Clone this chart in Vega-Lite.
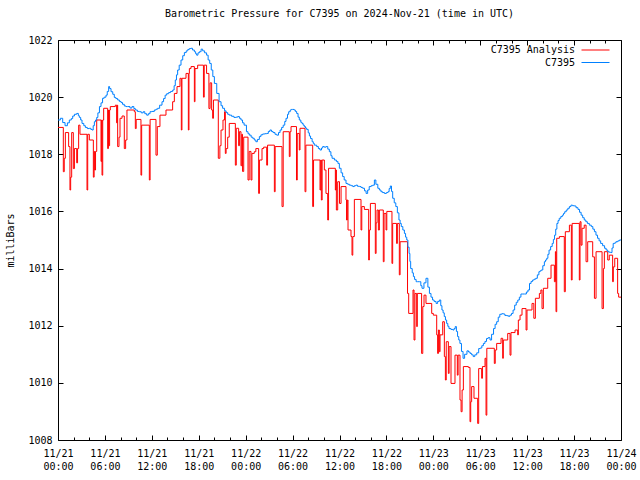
{
  "$schema": "https://vega.github.io/schema/vega-lite/v6.json",
  "width": 563,
  "height": 400,
  "autosize": {"type": "none"},
  "padding": {"left": 58, "top": 40, "right": 19, "bottom": 40},
  "background": "white",
  "config": {
    "font": "DejaVu Sans Mono",
    "view": {"stroke": "black", "strokeWidth": 1},
    "axis": {"domain": false, "grid": false, "labelFont": "DejaVu Sans Mono", "labelFontSize": 10, "labelColor": "black", "tickColor": "black", "tickWidth": 1, "titleFont": "DejaVu Sans Mono", "titleFontSize": 10, "titleFontWeight": "normal", "titleColor": "black", "labelFlush": false, "labelOverlap": false},
    "legend": {"title": null, "orient": "none", "direction": "vertical", "symbolType": "M-2.8,0H2.8", "symbolSize": 100, "symbolStrokeWidth": 1, "labelAlign": "right", "labelOffset": -26, "labelFont": "DejaVu Sans Mono", "labelFontSize": 10, "labelColor": "black", "padding": 0}
  },
  "title": {"text": "Barometric Pressure for C7395 on 2024-Nov-21 (time in UTC)", "font": "DejaVu Sans Mono", "fontSize": 10, "fontWeight": "normal", "offset": 16, "anchor": "middle", "color": "black"},
  "data": {"values": [
    {"series":"C7395 Analysis","hour":0,"mb":1018.94},{"series":"C7395 Analysis","hour":0.68,"mb":1017.39},{"series":"C7395 Analysis","hour":0.8,"mb":1017.86},{"series":"C7395 Analysis","hour":0.94,"mb":1018.76},{"series":"C7395 Analysis","hour":1.36,"mb":1018.27},{"series":"C7395 Analysis","hour":1.53,"mb":1016.75},{"series":"C7395 Analysis","hour":1.62,"mb":1017.2},{"series":"C7395 Analysis","hour":1.75,"mb":1018.76},{"series":"C7395 Analysis","hour":1.96,"mb":1017.5},{"series":"C7395 Analysis","hour":2.1,"mb":1018.2},{"series":"C7395 Analysis","hour":2.39,"mb":1017.7},{"series":"C7395 Analysis","hour":2.5,"mb":1018.2},{"series":"C7395 Analysis","hour":2.64,"mb":1019.02},{"series":"C7395 Analysis","hour":2.81,"mb":1018.7},{"series":"C7395 Analysis","hour":3.71,"mb":1016.75},{"series":"C7395 Analysis","hour":3.8,"mb":1018.7},{"series":"C7395 Analysis","hour":4.01,"mb":1018.5},{"series":"C7395 Analysis","hour":4.52,"mb":1017.2},{"series":"C7395 Analysis","hour":4.62,"mb":1018.1},{"series":"C7395 Analysis","hour":4.69,"mb":1017.45},{"series":"C7395 Analysis","hour":4.8,"mb":1018.1},{"series":"C7395 Analysis","hour":4.95,"mb":1019.2},{"series":"C7395 Analysis","hour":5.5,"mb":1017.75},{"series":"C7395 Analysis","hour":5.58,"mb":1019.2},{"series":"C7395 Analysis","hour":5.63,"mb":1017.27},{"series":"C7395 Analysis","hour":5.72,"mb":1019.2},{"series":"C7395 Analysis","hour":5.84,"mb":1019.61},{"series":"C7395 Analysis","hour":6.35,"mb":1018.2},{"series":"C7395 Analysis","hour":6.45,"mb":1019.55},{"series":"C7395 Analysis","hour":6.5,"mb":1018.3},{"series":"C7395 Analysis","hour":6.6,"mb":1019.55},{"series":"C7395 Analysis","hour":6.69,"mb":1019.67},{"series":"C7395 Analysis","hour":7.33,"mb":1019.72},{"series":"C7395 Analysis","hour":7.5,"mb":1019.1},{"series":"C7395 Analysis","hour":7.57,"mb":1019.72},{"series":"C7395 Analysis","hour":7.63,"mb":1018.27},{"series":"C7395 Analysis","hour":7.8,"mb":1018.6},{"series":"C7395 Analysis","hour":7.93,"mb":1019.26},{"series":"C7395 Analysis","hour":8.19,"mb":1019.34},{"series":"C7395 Analysis","hour":8.48,"mb":1018.2},{"series":"C7395 Analysis","hour":8.65,"mb":1018.5},{"series":"C7395 Analysis","hour":8.82,"mb":1019.55},{"series":"C7395 Analysis","hour":9.76,"mb":1019.49},{"series":"C7395 Analysis","hour":9.89,"mb":1018.9},{"series":"C7395 Analysis","hour":10.0,"mb":1019.22},{"series":"C7395 Analysis","hour":10.61,"mb":1017.27},{"series":"C7395 Analysis","hour":10.7,"mb":1019.02},{"series":"C7395 Analysis","hour":11.68,"mb":1017.1},{"series":"C7395 Analysis","hour":11.78,"mb":1019.22},{"series":"C7395 Analysis","hour":12.53,"mb":1017.97},{"series":"C7395 Analysis","hour":12.7,"mb":1018.97},{"series":"C7395 Analysis","hour":13.04,"mb":1019.37},{"series":"C7395 Analysis","hour":13.81,"mb":1019.55},{"series":"C7395 Analysis","hour":14.66,"mb":1019.84},{"series":"C7395 Analysis","hour":14.88,"mb":1020.13},{"series":"C7395 Analysis","hour":15.22,"mb":1020.37},{"series":"C7395 Analysis","hour":15.6,"mb":1020.66},{"series":"C7395 Analysis","hour":15.77,"mb":1018.85},{"series":"C7395 Analysis","hour":15.85,"mb":1020.66},{"series":"C7395 Analysis","hour":16.37,"mb":1020.83},{"series":"C7395 Analysis","hour":16.67,"mb":1018.85},{"series":"C7395 Analysis","hour":16.75,"mb":1020.83},{"series":"C7395 Analysis","hour":16.8,"mb":1021.0},{"series":"C7395 Analysis","hour":17.01,"mb":1021.07},{"series":"C7395 Analysis","hour":17.44,"mb":1019.84},{"series":"C7395 Analysis","hour":17.52,"mb":1021.0},{"series":"C7395 Analysis","hour":17.86,"mb":1021.12},{"series":"C7395 Analysis","hour":18.6,"mb":1020.0},{"series":"C7395 Analysis","hour":18.7,"mb":1021.12},{"series":"C7395 Analysis","hour":19.0,"mb":1020.83},{"series":"C7395 Analysis","hour":19.3,"mb":1019.6},{"series":"C7395 Analysis","hour":19.45,"mb":1020.5},{"series":"C7395 Analysis","hour":19.65,"mb":1019.55},{"series":"C7395 Analysis","hour":19.78,"mb":1019.26},{"series":"C7395 Analysis","hour":19.88,"mb":1019.9},{"series":"C7395 Analysis","hour":20.5,"mb":1017.86},{"series":"C7395 Analysis","hour":20.7,"mb":1018.3},{"series":"C7395 Analysis","hour":20.85,"mb":1018.85},{"series":"C7395 Analysis","hour":21.1,"mb":1019.2},{"series":"C7395 Analysis","hour":21.3,"mb":1019.49},{"series":"C7395 Analysis","hour":21.4,"mb":1018.03},{"series":"C7395 Analysis","hour":21.5,"mb":1018.2},{"series":"C7395 Analysis","hour":21.7,"mb":1018.6},{"series":"C7395 Analysis","hour":21.9,"mb":1019.08},{"series":"C7395 Analysis","hour":22.68,"mb":1017.62},{"series":"C7395 Analysis","hour":22.8,"mb":1018.91},{"series":"C7395 Analysis","hour":23.1,"mb":1018.3},{"series":"C7395 Analysis","hour":23.2,"mb":1018.79},{"series":"C7395 Analysis","hour":23.4,"mb":1017.6},{"series":"C7395 Analysis","hour":23.5,"mb":1018.7},{"series":"C7395 Analysis","hour":23.6,"mb":1017.4},{"series":"C7395 Analysis","hour":23.75,"mb":1018.6},{"series":"C7395 Analysis","hour":24.3,"mb":1017.1},{"series":"C7395 Analysis","hour":24.45,"mb":1018.1},{"series":"C7395 Analysis","hour":24.68,"mb":1017.1},{"series":"C7395 Analysis","hour":24.8,"mb":1018.03},{"series":"C7395 Analysis","hour":25.1,"mb":1018.09},{"series":"C7395 Analysis","hour":25.3,"mb":1018.2},{"series":"C7395 Analysis","hour":25.66,"mb":1016.63},{"series":"C7395 Analysis","hour":25.76,"mb":1017.8},{"series":"C7395 Analysis","hour":26.09,"mb":1018.2},{"series":"C7395 Analysis","hour":26.3,"mb":1018.25},{"series":"C7395 Analysis","hour":26.69,"mb":1017.62},{"series":"C7395 Analysis","hour":26.8,"mb":1018.32},{"series":"C7395 Analysis","hour":27.67,"mb":1016.69},{"series":"C7395 Analysis","hour":27.77,"mb":1018.27},{"series":"C7395 Analysis","hour":28.65,"mb":1016.17},{"series":"C7395 Analysis","hour":28.8,"mb":1018.79},{"series":"C7395 Analysis","hour":29.58,"mb":1017.92},{"series":"C7395 Analysis","hour":29.68,"mb":1018.79},{"series":"C7395 Analysis","hour":29.8,"mb":1018.97},{"series":"C7395 Analysis","hour":30.5,"mb":1017.1},{"series":"C7395 Analysis","hour":30.6,"mb":1018.73},{"series":"C7395 Analysis","hour":30.86,"mb":1018.15},{"series":"C7395 Analysis","hour":30.95,"mb":1018.91},{"series":"C7395 Analysis","hour":31.59,"mb":1016.69},{"series":"C7395 Analysis","hour":31.7,"mb":1018.32},{"series":"C7395 Analysis","hour":32.57,"mb":1016.17},{"series":"C7395 Analysis","hour":32.68,"mb":1017.8},{"series":"C7395 Analysis","hour":33.51,"mb":1016.75},{"series":"C7395 Analysis","hour":33.6,"mb":1017.8},{"series":"C7395 Analysis","hour":33.68,"mb":1016.4},{"series":"C7395 Analysis","hour":33.78,"mb":1017.8},{"series":"C7395 Analysis","hour":34.06,"mb":1017.45},{"series":"C7395 Analysis","hour":34.27,"mb":1016.63},{"series":"C7395 Analysis","hour":34.49,"mb":1015.7},{"series":"C7395 Analysis","hour":34.6,"mb":1017.51},{"series":"C7395 Analysis","hour":35.47,"mb":1016.75},{"series":"C7395 Analysis","hour":35.55,"mb":1017.45},{"series":"C7395 Analysis","hour":35.6,"mb":1016.05},{"series":"C7395 Analysis","hour":35.77,"mb":1017.04},{"series":"C7395 Analysis","hour":36.0,"mb":1016.28},{"series":"C7395 Analysis","hour":36.2,"mb":1016.87},{"series":"C7395 Analysis","hour":36.83,"mb":1016.4},{"series":"C7395 Analysis","hour":36.9,"mb":1015.7},{"series":"C7395 Analysis","hour":37.0,"mb":1016.4},{"series":"C7395 Analysis","hour":37.09,"mb":1015.35},{"series":"C7395 Analysis","hour":37.47,"mb":1015.12},{"series":"C7395 Analysis","hour":37.6,"mb":1014.47},{"series":"C7395 Analysis","hour":37.7,"mb":1015.12},{"series":"C7395 Analysis","hour":37.9,"mb":1016.42},{"series":"C7395 Analysis","hour":38.75,"mb":1015.35},{"series":"C7395 Analysis","hour":38.85,"mb":1016.17},{"series":"C7395 Analysis","hour":39.18,"mb":1016.07},{"series":"C7395 Analysis","hour":39.73,"mb":1014.3},{"series":"C7395 Analysis","hour":39.82,"mb":1015.35},{"series":"C7395 Analysis","hour":39.95,"mb":1016.28},{"series":"C7395 Analysis","hour":40.58,"mb":1014.53},{"series":"C7395 Analysis","hour":40.68,"mb":1015.6},{"series":"C7395 Analysis","hour":40.8,"mb":1016.05},{"series":"C7395 Analysis","hour":40.97,"mb":1015.35},{"series":"C7395 Analysis","hour":41.1,"mb":1016.05},{"series":"C7395 Analysis","hour":41.6,"mb":1014.24},{"series":"C7395 Analysis","hour":41.7,"mb":1015.93},{"series":"C7395 Analysis","hour":41.95,"mb":1015.35},{"series":"C7395 Analysis","hour":42.05,"mb":1016.0},{"series":"C7395 Analysis","hour":42.71,"mb":1014.18},{"series":"C7395 Analysis","hour":42.8,"mb":1015.58},{"series":"C7395 Analysis","hour":43.3,"mb":1014.88},{"series":"C7395 Analysis","hour":43.4,"mb":1015.58},{"series":"C7395 Analysis","hour":43.65,"mb":1013.78},{"series":"C7395 Analysis","hour":43.75,"mb":1014.94},{"series":"C7395 Analysis","hour":44.7,"mb":1013.13},{"series":"C7395 Analysis","hour":44.85,"mb":1012.43},{"series":"C7395 Analysis","hour":45.4,"mb":1013.25},{"series":"C7395 Analysis","hour":45.53,"mb":1011.5},{"series":"C7395 Analysis","hour":45.65,"mb":1013.13},{"series":"C7395 Analysis","hour":45.87,"mb":1011.97},{"series":"C7395 Analysis","hour":45.95,"mb":1013.13},{"series":"C7395 Analysis","hour":46.5,"mb":1011.03},{"series":"C7395 Analysis","hour":46.65,"mb":1012.67},{"series":"C7395 Analysis","hour":46.81,"mb":1013.07},{"series":"C7395 Analysis","hour":47.06,"mb":1012.78},{"series":"C7395 Analysis","hour":47.79,"mb":1012.43},{"series":"C7395 Analysis","hour":48.0,"mb":1012.37},{"series":"C7395 Analysis","hour":48.43,"mb":1011.68},{"series":"C7395 Analysis","hour":48.55,"mb":1011.03},{"series":"C7395 Analysis","hour":48.65,"mb":1011.85},{"series":"C7395 Analysis","hour":48.77,"mb":1011.09},{"series":"C7395 Analysis","hour":48.86,"mb":1011.68},{"series":"C7395 Analysis","hour":49.2,"mb":1012.14},{"series":"C7395 Analysis","hour":49.41,"mb":1010.92},{"series":"C7395 Analysis","hour":49.54,"mb":1010.1},{"series":"C7395 Analysis","hour":49.65,"mb":1011.44},{"series":"C7395 Analysis","hour":49.92,"mb":1010.33},{"series":"C7395 Analysis","hour":50.02,"mb":1011.27},{"series":"C7395 Analysis","hour":50.26,"mb":1009.98},{"series":"C7395 Analysis","hour":50.77,"mb":1010.97},{"series":"C7395 Analysis","hour":51.07,"mb":1010.27},{"series":"C7395 Analysis","hour":51.17,"mb":1010.97},{"series":"C7395 Analysis","hour":51.41,"mb":1009.4},{"series":"C7395 Analysis","hour":51.55,"mb":1008.99},{"series":"C7395 Analysis","hour":51.68,"mb":1009.75},{"series":"C7395 Analysis","hour":51.84,"mb":1010.57},{"series":"C7395 Analysis","hour":52.48,"mb":1010.54},{"series":"C7395 Analysis","hour":52.69,"mb":1008.64},{"series":"C7395 Analysis","hour":52.78,"mb":1009.34},{"series":"C7395 Analysis","hour":52.9,"mb":1009.87},{"series":"C7395 Analysis","hour":53.2,"mb":1009.46},{"series":"C7395 Analysis","hour":53.67,"mb":1008.58},{"series":"C7395 Analysis","hour":53.8,"mb":1010.5},{"series":"C7395 Analysis","hour":54.18,"mb":1010.16},{"series":"C7395 Analysis","hour":54.28,"mb":1010.57},{"series":"C7395 Analysis","hour":54.61,"mb":1010.86},{"series":"C7395 Analysis","hour":54.74,"mb":1008.87},{"series":"C7395 Analysis","hour":54.84,"mb":1011.21},{"series":"C7395 Analysis","hour":55.8,"mb":1010.68},{"series":"C7395 Analysis","hour":55.92,"mb":1011.15},{"series":"C7395 Analysis","hour":56.1,"mb":1011.38},{"series":"C7395 Analysis","hour":56.66,"mb":1011.56},{"series":"C7395 Analysis","hour":56.87,"mb":1010.86},{"series":"C7395 Analysis","hour":56.95,"mb":1011.5},{"series":"C7395 Analysis","hour":57.51,"mb":1011.73},{"series":"C7395 Analysis","hour":57.81,"mb":1010.97},{"series":"C7395 Analysis","hour":57.93,"mb":1011.76},{"series":"C7395 Analysis","hour":58.45,"mb":1011.85},{"series":"C7395 Analysis","hour":58.79,"mb":1011.68},{"series":"C7395 Analysis","hour":58.87,"mb":1012.2},{"series":"C7395 Analysis","hour":59.09,"mb":1012.37},{"series":"C7395 Analysis","hour":59.34,"mb":1012.6},{"series":"C7395 Analysis","hour":59.86,"mb":1011.85},{"series":"C7395 Analysis","hour":59.98,"mb":1012.55},{"series":"C7395 Analysis","hour":60.62,"mb":1012.78},{"series":"C7395 Analysis","hour":60.85,"mb":1012.26},{"series":"C7395 Analysis","hour":61.05,"mb":1012.96},{"series":"C7395 Analysis","hour":61.56,"mb":1013.13},{"series":"C7395 Analysis","hour":61.75,"mb":1013.25},{"series":"C7395 Analysis","hour":61.9,"mb":1012.6},{"series":"C7395 Analysis","hour":62.07,"mb":1013.31},{"series":"C7395 Analysis","hour":62.63,"mb":1013.66},{"series":"C7395 Analysis","hour":63.05,"mb":1014.12},{"series":"C7395 Analysis","hour":63.48,"mb":1013.54},{"series":"C7395 Analysis","hour":63.61,"mb":1014.59},{"series":"C7395 Analysis","hour":63.69,"mb":1012.49},{"series":"C7395 Analysis","hour":63.78,"mb":1015.06},{"series":"C7395 Analysis","hour":64.12,"mb":1015.12},{"series":"C7395 Analysis","hour":64.75,"mb":1013.19},{"series":"C7395 Analysis","hour":64.88,"mb":1015.29},{"series":"C7395 Analysis","hour":65.4,"mb":1015.52},{"series":"C7395 Analysis","hour":65.65,"mb":1013.6},{"series":"C7395 Analysis","hour":65.75,"mb":1015.58},{"series":"C7395 Analysis","hour":66.67,"mb":1013.6},{"series":"C7395 Analysis","hour":66.76,"mb":1015.64},{"series":"C7395 Analysis","hour":66.89,"mb":1014.82},{"series":"C7395 Analysis","hour":67.02,"mb":1015.41},{"series":"C7395 Analysis","hour":67.3,"mb":1015.52},{"series":"C7395 Analysis","hour":67.53,"mb":1014.24},{"series":"C7395 Analysis","hour":67.74,"mb":1014.94},{"series":"C7395 Analysis","hour":68.38,"mb":1014.41},{"series":"C7395 Analysis","hour":68.6,"mb":1012.96},{"series":"C7395 Analysis","hour":68.81,"mb":1014.59},{"series":"C7395 Analysis","hour":69.58,"mb":1012.6},{"series":"C7395 Analysis","hour":69.75,"mb":1014.0},{"series":"C7395 Analysis","hour":69.87,"mb":1014.59},{"series":"C7395 Analysis","hour":70.3,"mb":1014.3},{"series":"C7395 Analysis","hour":70.5,"mb":1014.47},{"series":"C7395 Analysis","hour":70.93,"mb":1013.54},{"series":"C7395 Analysis","hour":71.02,"mb":1014.06},{"series":"C7395 Analysis","hour":71.2,"mb":1014.36},{"series":"C7395 Analysis","hour":71.57,"mb":1013.13},{"series":"C7395 Analysis","hour":71.7,"mb":1013.0},{"series":"C7395 Analysis","hour":72.0,"mb":1013.0},
    {"series":"C7395","hour":0,"mb":1019.2},{"series":"C7395","hour":0.3,"mb":1019.26},{"series":"C7395","hour":0.6,"mb":1019.11},{"series":"C7395","hour":0.9,"mb":1019.0},{"series":"C7395","hour":1.2,"mb":1019.1},{"series":"C7395","hour":1.45,"mb":1019.2},{"series":"C7395","hour":1.7,"mb":1019.25},{"series":"C7395","hour":1.88,"mb":1019.34},{"series":"C7395","hour":2.1,"mb":1019.4},{"series":"C7395","hour":2.39,"mb":1019.43},{"series":"C7395","hour":2.6,"mb":1019.35},{"series":"C7395","hour":2.73,"mb":1019.29},{"series":"C7395","hour":2.9,"mb":1019.2},{"series":"C7395","hour":3.07,"mb":1019.08},{"series":"C7395","hour":3.3,"mb":1019.0},{"series":"C7395","hour":3.5,"mb":1018.94},{"series":"C7395","hour":3.75,"mb":1018.9},{"series":"C7395","hour":4.0,"mb":1018.91},{"series":"C7395","hour":4.2,"mb":1018.87},{"series":"C7395","hour":4.35,"mb":1018.85},{"series":"C7395","hour":4.5,"mb":1019.0},{"series":"C7395","hour":4.65,"mb":1019.14},{"series":"C7395","hour":4.8,"mb":1019.2},{"series":"C7395","hour":4.95,"mb":1019.29},{"series":"C7395","hour":5.1,"mb":1019.45},{"series":"C7395","hour":5.3,"mb":1019.67},{"series":"C7395","hour":5.5,"mb":1019.8},{"series":"C7395","hour":5.7,"mb":1019.96},{"series":"C7395","hour":5.9,"mb":1020.0},{"series":"C7395","hour":6.14,"mb":1020.07},{"series":"C7395","hour":6.3,"mb":1020.2},{"series":"C7395","hour":6.48,"mb":1020.37},{"series":"C7395","hour":6.6,"mb":1020.3},{"series":"C7395","hour":6.78,"mb":1020.19},{"series":"C7395","hour":7.0,"mb":1020.1},{"series":"C7395","hour":7.2,"mb":1019.99},{"series":"C7395","hour":7.4,"mb":1019.95},{"series":"C7395","hour":7.63,"mb":1019.9},{"series":"C7395","hour":7.85,"mb":1019.85},{"series":"C7395","hour":8.06,"mb":1019.81},{"series":"C7395","hour":8.25,"mb":1019.75},{"series":"C7395","hour":8.48,"mb":1019.69},{"series":"C7395","hour":8.7,"mb":1019.67},{"series":"C7395","hour":8.91,"mb":1019.67},{"series":"C7395","hour":9.2,"mb":1019.62},{"series":"C7395","hour":9.46,"mb":1019.67},{"series":"C7395","hour":9.7,"mb":1019.6},{"series":"C7395","hour":9.89,"mb":1019.55},{"series":"C7395","hour":10.15,"mb":1019.5},{"series":"C7395","hour":10.4,"mb":1019.49},{"series":"C7395","hour":10.65,"mb":1019.45},{"series":"C7395","hour":10.9,"mb":1019.49},{"series":"C7395","hour":11.1,"mb":1019.42},{"series":"C7395","hour":11.34,"mb":1019.37},{"series":"C7395","hour":11.55,"mb":1019.42},{"series":"C7395","hour":11.77,"mb":1019.49},{"series":"C7395","hour":12.0,"mb":1019.5},{"series":"C7395","hour":12.32,"mb":1019.55},{"series":"C7395","hour":12.55,"mb":1019.58},{"series":"C7395","hour":12.75,"mb":1019.61},{"series":"C7395","hour":13.0,"mb":1019.72},{"series":"C7395","hour":13.3,"mb":1019.84},{"series":"C7395","hour":13.5,"mb":1019.95},{"series":"C7395","hour":13.7,"mb":1020.07},{"series":"C7395","hour":13.9,"mb":1020.12},{"series":"C7395","hour":14.15,"mb":1020.16},{"series":"C7395","hour":14.4,"mb":1020.2},{"series":"C7395","hour":14.67,"mb":1020.25},{"series":"C7395","hour":14.85,"mb":1020.4},{"series":"C7395","hour":15.0,"mb":1020.6},{"series":"C7395","hour":15.15,"mb":1020.78},{"series":"C7395","hour":15.3,"mb":1020.95},{"series":"C7395","hour":15.5,"mb":1021.12},{"series":"C7395","hour":15.73,"mb":1021.3},{"series":"C7395","hour":15.95,"mb":1021.45},{"series":"C7395","hour":16.16,"mb":1021.56},{"series":"C7395","hour":16.4,"mb":1021.62},{"series":"C7395","hour":16.6,"mb":1021.67},{"series":"C7395","hour":16.8,"mb":1021.7},{"series":"C7395","hour":17.0,"mb":1021.71},{"series":"C7395","hour":17.2,"mb":1021.65},{"series":"C7395","hour":17.44,"mb":1021.59},{"series":"C7395","hour":17.6,"mb":1021.52},{"series":"C7395","hour":17.73,"mb":1021.47},{"series":"C7395","hour":17.9,"mb":1021.55},{"series":"C7395","hour":18.08,"mb":1021.59},{"series":"C7395","hour":18.3,"mb":1021.68},{"series":"C7395","hour":18.5,"mb":1021.62},{"series":"C7395","hour":18.75,"mb":1021.55},{"series":"C7395","hour":19.0,"mb":1021.47},{"series":"C7395","hour":19.2,"mb":1021.3},{"series":"C7395","hour":19.4,"mb":1021.18},{"series":"C7395","hour":19.6,"mb":1020.95},{"series":"C7395","hour":19.8,"mb":1020.72},{"series":"C7395","hour":20.0,"mb":1020.48},{"series":"C7395","hour":20.3,"mb":1020.13},{"series":"C7395","hour":20.6,"mb":1019.84},{"series":"C7395","hour":20.85,"mb":1019.7},{"series":"C7395","hour":21.05,"mb":1019.61},{"series":"C7395","hour":21.3,"mb":1019.52},{"series":"C7395","hour":21.5,"mb":1019.46},{"series":"C7395","hour":21.7,"mb":1019.4},{"series":"C7395","hour":21.9,"mb":1019.37},{"series":"C7395","hour":22.2,"mb":1019.33},{"series":"C7395","hour":22.5,"mb":1019.29},{"series":"C7395","hour":22.75,"mb":1019.3},{"series":"C7395","hour":22.98,"mb":1019.32},{"series":"C7395","hour":23.2,"mb":1019.26},{"series":"C7395","hour":23.4,"mb":1019.2},{"series":"C7395","hour":23.6,"mb":1019.1},{"series":"C7395","hour":23.8,"mb":1019.02},{"series":"C7395","hour":24.1,"mb":1018.79},{"series":"C7395","hour":24.3,"mb":1018.72},{"series":"C7395","hour":24.47,"mb":1018.67},{"series":"C7395","hour":24.7,"mb":1018.6},{"series":"C7395","hour":24.9,"mb":1018.56},{"series":"C7395","hour":25.1,"mb":1018.5},{"series":"C7395","hour":25.3,"mb":1018.44},{"series":"C7395","hour":25.5,"mb":1018.52},{"series":"C7395","hour":25.75,"mb":1018.62},{"series":"C7395","hour":25.95,"mb":1018.68},{"series":"C7395","hour":26.17,"mb":1018.71},{"series":"C7395","hour":26.45,"mb":1018.72},{"series":"C7395","hour":26.7,"mb":1018.73},{"series":"C7395","hour":26.9,"mb":1018.8},{"series":"C7395","hour":27.1,"mb":1018.85},{"series":"C7395","hour":27.3,"mb":1018.8},{"series":"C7395","hour":27.5,"mb":1018.76},{"series":"C7395","hour":27.75,"mb":1018.7},{"series":"C7395","hour":27.97,"mb":1018.67},{"series":"C7395","hour":28.2,"mb":1018.76},{"series":"C7395","hour":28.4,"mb":1018.85},{"series":"C7395","hour":28.6,"mb":1018.94},{"series":"C7395","hour":28.8,"mb":1019.02},{"series":"C7395","hour":29.0,"mb":1019.15},{"series":"C7395","hour":29.16,"mb":1019.26},{"series":"C7395","hour":29.35,"mb":1019.4},{"series":"C7395","hour":29.5,"mb":1019.49},{"series":"C7395","hour":29.7,"mb":1019.55},{"series":"C7395","hour":29.84,"mb":1019.57},{"series":"C7395","hour":30.0,"mb":1019.57},{"series":"C7395","hour":30.2,"mb":1019.55},{"series":"C7395","hour":30.35,"mb":1019.5},{"series":"C7395","hour":30.52,"mb":1019.43},{"series":"C7395","hour":30.7,"mb":1019.3},{"series":"C7395","hour":30.86,"mb":1019.2},{"series":"C7395","hour":31.05,"mb":1019.12},{"series":"C7395","hour":31.2,"mb":1019.08},{"series":"C7395","hour":31.35,"mb":1019.02},{"series":"C7395","hour":31.5,"mb":1018.97},{"series":"C7395","hour":31.65,"mb":1018.92},{"series":"C7395","hour":31.8,"mb":1018.87},{"series":"C7395","hour":32.0,"mb":1018.75},{"series":"C7395","hour":32.15,"mb":1018.64},{"series":"C7395","hour":32.3,"mb":1018.55},{"series":"C7395","hour":32.5,"mb":1018.44},{"series":"C7395","hour":32.65,"mb":1018.38},{"series":"C7395","hour":32.78,"mb":1018.32},{"series":"C7395","hour":33.08,"mb":1018.27},{"series":"C7395","hour":33.3,"mb":1018.2},{"series":"C7395","hour":33.5,"mb":1018.15},{"series":"C7395","hour":33.7,"mb":1018.22},{"series":"C7395","hour":33.85,"mb":1018.27},{"series":"C7395","hour":34.05,"mb":1018.25},{"series":"C7395","hour":34.28,"mb":1018.27},{"series":"C7395","hour":34.5,"mb":1018.18},{"series":"C7395","hour":34.7,"mb":1018.09},{"series":"C7395","hour":34.9,"mb":1017.95},{"series":"C7395","hour":35.05,"mb":1017.86},{"series":"C7395","hour":35.35,"mb":1017.8},{"series":"C7395","hour":35.6,"mb":1017.75},{"series":"C7395","hour":35.8,"mb":1017.68},{"series":"C7395","hour":35.98,"mb":1017.51},{"series":"C7395","hour":36.2,"mb":1017.35},{"series":"C7395","hour":36.4,"mb":1017.22},{"series":"C7395","hour":36.6,"mb":1017.1},{"series":"C7395","hour":36.83,"mb":1016.98},{"series":"C7395","hour":37.05,"mb":1016.95},{"series":"C7395","hour":37.26,"mb":1016.92},{"series":"C7395","hour":37.5,"mb":1016.9},{"series":"C7395","hour":37.7,"mb":1016.87},{"series":"C7395","hour":37.9,"mb":1016.9},{"series":"C7395","hour":38.1,"mb":1016.92},{"series":"C7395","hour":38.3,"mb":1016.88},{"series":"C7395","hour":38.55,"mb":1016.87},{"series":"C7395","hour":38.75,"mb":1016.84},{"series":"C7395","hour":38.97,"mb":1016.81},{"series":"C7395","hour":39.2,"mb":1016.72},{"series":"C7395","hour":39.4,"mb":1016.63},{"series":"C7395","hour":39.6,"mb":1016.75},{"series":"C7395","hour":39.8,"mb":1016.87},{"series":"C7395","hour":40.05,"mb":1016.9},{"series":"C7395","hour":40.25,"mb":1016.92},{"series":"C7395","hour":40.46,"mb":1017.1},{"series":"C7395","hour":40.65,"mb":1016.95},{"series":"C7395","hour":40.9,"mb":1016.81},{"series":"C7395","hour":41.1,"mb":1016.75},{"series":"C7395","hour":41.3,"mb":1016.69},{"series":"C7395","hour":41.5,"mb":1016.66},{"series":"C7395","hour":41.75,"mb":1016.63},{"series":"C7395","hour":42.0,"mb":1016.66},{"series":"C7395","hour":42.2,"mb":1016.69},{"series":"C7395","hour":42.35,"mb":1016.8},{"series":"C7395","hour":42.5,"mb":1016.89},{"series":"C7395","hour":42.65,"mb":1016.7},{"series":"C7395","hour":42.8,"mb":1016.46},{"series":"C7395","hour":43.0,"mb":1016.3},{"series":"C7395","hour":43.2,"mb":1016.17},{"series":"C7395","hour":43.4,"mb":1015.95},{"series":"C7395","hour":43.6,"mb":1015.7},{"series":"C7395","hour":43.75,"mb":1015.58},{"series":"C7395","hour":43.9,"mb":1015.47},{"series":"C7395","hour":44.1,"mb":1015.35},{"series":"C7395","hour":44.3,"mb":1015.23},{"series":"C7395","hour":44.45,"mb":1015.1},{"series":"C7395","hour":44.6,"mb":1015.0},{"series":"C7395","hour":44.75,"mb":1014.75},{"series":"C7395","hour":44.9,"mb":1014.53},{"series":"C7395","hour":45.0,"mb":1014.25},{"series":"C7395","hour":45.1,"mb":1014.0},{"series":"C7395","hour":45.3,"mb":1013.85},{"series":"C7395","hour":45.45,"mb":1013.72},{"series":"C7395","hour":45.6,"mb":1013.62},{"series":"C7395","hour":45.8,"mb":1013.54},{"series":"C7395","hour":46.0,"mb":1013.54},{"series":"C7395","hour":46.2,"mb":1013.54},{"series":"C7395","hour":46.4,"mb":1013.4},{"series":"C7395","hour":46.55,"mb":1013.31},{"series":"C7395","hour":46.8,"mb":1013.5},{"series":"C7395","hour":47.06,"mb":1013.66},{"series":"C7395","hour":47.3,"mb":1013.35},{"series":"C7395","hour":47.5,"mb":1013.13},{"series":"C7395","hour":47.7,"mb":1013.0},{"series":"C7395","hour":47.9,"mb":1012.9},{"series":"C7395","hour":48.1,"mb":1012.85},{"series":"C7395","hour":48.35,"mb":1012.78},{"series":"C7395","hour":48.55,"mb":1012.85},{"series":"C7395","hour":48.77,"mb":1012.9},{"series":"C7395","hour":48.95,"mb":1012.7},{"series":"C7395","hour":49.1,"mb":1012.55},{"series":"C7395","hour":49.25,"mb":1012.45},{"series":"C7395","hour":49.4,"mb":1012.32},{"series":"C7395","hour":49.55,"mb":1012.2},{"series":"C7395","hour":49.7,"mb":1012.08},{"series":"C7395","hour":49.85,"mb":1011.98},{"series":"C7395","hour":50.0,"mb":1011.9},{"series":"C7395","hour":50.25,"mb":1011.87},{"series":"C7395","hour":50.5,"mb":1011.85},{"series":"C7395","hour":50.65,"mb":1011.9},{"series":"C7395","hour":50.8,"mb":1011.97},{"series":"C7395","hour":50.95,"mb":1011.8},{"series":"C7395","hour":51.1,"mb":1011.62},{"series":"C7395","hour":51.25,"mb":1011.5},{"series":"C7395","hour":51.4,"mb":1011.38},{"series":"C7395","hour":51.6,"mb":1011.1},{"series":"C7395","hour":51.8,"mb":1010.86},{"series":"C7395","hour":52.0,"mb":1011.0},{"series":"C7395","hour":52.3,"mb":1011.12},{"series":"C7395","hour":52.5,"mb":1011.08},{"series":"C7395","hour":52.7,"mb":1011.03},{"series":"C7395","hour":52.9,"mb":1010.98},{"series":"C7395","hour":53.1,"mb":1010.92},{"series":"C7395","hour":53.3,"mb":1010.98},{"series":"C7395","hour":53.55,"mb":1011.05},{"series":"C7395","hour":53.8,"mb":1011.2},{"series":"C7395","hour":54.0,"mb":1011.22},{"series":"C7395","hour":54.2,"mb":1011.3},{"series":"C7395","hour":54.4,"mb":1011.38},{"series":"C7395","hour":54.6,"mb":1011.45},{"series":"C7395","hour":54.8,"mb":1011.55},{"series":"C7395","hour":55.0,"mb":1011.58},{"series":"C7395","hour":55.25,"mb":1011.5},{"series":"C7395","hour":55.45,"mb":1011.7},{"series":"C7395","hour":55.7,"mb":1011.9},{"series":"C7395","hour":55.9,"mb":1012.05},{"series":"C7395","hour":56.1,"mb":1012.14},{"series":"C7395","hour":56.3,"mb":1012.3},{"series":"C7395","hour":56.5,"mb":1012.4},{"series":"C7395","hour":56.75,"mb":1012.42},{"series":"C7395","hour":56.97,"mb":1012.41},{"series":"C7395","hour":57.15,"mb":1012.36},{"series":"C7395","hour":57.4,"mb":1012.35},{"series":"C7395","hour":57.6,"mb":1012.33},{"series":"C7395","hour":57.8,"mb":1012.37},{"series":"C7395","hour":58.0,"mb":1012.43},{"series":"C7395","hour":58.2,"mb":1012.55},{"series":"C7395","hour":58.4,"mb":1012.72},{"series":"C7395","hour":58.6,"mb":1012.82},{"series":"C7395","hour":58.8,"mb":1012.9},{"series":"C7395","hour":59.0,"mb":1013.0},{"series":"C7395","hour":59.2,"mb":1013.11},{"series":"C7395","hour":59.45,"mb":1013.11},{"series":"C7395","hour":59.66,"mb":1013.11},{"series":"C7395","hour":59.9,"mb":1013.18},{"series":"C7395","hour":60.1,"mb":1013.25},{"series":"C7395","hour":60.3,"mb":1013.48},{"series":"C7395","hour":60.5,"mb":1013.55},{"series":"C7395","hour":60.7,"mb":1013.6},{"series":"C7395","hour":60.9,"mb":1013.63},{"series":"C7395","hour":61.1,"mb":1013.66},{"series":"C7395","hour":61.3,"mb":1013.78},{"series":"C7395","hour":61.5,"mb":1013.89},{"series":"C7395","hour":61.65,"mb":1013.92},{"series":"C7395","hour":61.8,"mb":1013.95},{"series":"C7395","hour":62.0,"mb":1014.1},{"series":"C7395","hour":62.2,"mb":1014.24},{"series":"C7395","hour":62.35,"mb":1014.3},{"series":"C7395","hour":62.5,"mb":1014.36},{"series":"C7395","hour":62.65,"mb":1014.5},{"series":"C7395","hour":62.8,"mb":1014.65},{"series":"C7395","hour":63.0,"mb":1014.77},{"series":"C7395","hour":63.2,"mb":1014.88},{"series":"C7395","hour":63.35,"mb":1015.02},{"series":"C7395","hour":63.5,"mb":1015.17},{"series":"C7395","hour":63.65,"mb":1015.38},{"series":"C7395","hour":63.8,"mb":1015.58},{"series":"C7395","hour":63.95,"mb":1015.68},{"series":"C7395","hour":64.1,"mb":1015.76},{"series":"C7395","hour":64.3,"mb":1015.82},{"series":"C7395","hour":64.5,"mb":1015.87},{"series":"C7395","hour":64.65,"mb":1015.93},{"series":"C7395","hour":64.8,"mb":1015.99},{"series":"C7395","hour":65.0,"mb":1016.05},{"series":"C7395","hour":65.2,"mb":1016.11},{"series":"C7395","hour":65.4,"mb":1016.17},{"series":"C7395","hour":65.6,"mb":1016.22},{"series":"C7395","hour":65.8,"mb":1016.2},{"series":"C7395","hour":66.04,"mb":1016.19},{"series":"C7395","hour":66.25,"mb":1016.13},{"series":"C7395","hour":66.5,"mb":1016.07},{"series":"C7395","hour":66.7,"mb":1015.97},{"series":"C7395","hour":66.9,"mb":1015.87},{"series":"C7395","hour":67.1,"mb":1015.78},{"series":"C7395","hour":67.3,"mb":1015.7},{"series":"C7395","hour":67.5,"mb":1015.64},{"series":"C7395","hour":67.7,"mb":1015.58},{"series":"C7395","hour":67.95,"mb":1015.52},{"series":"C7395","hour":68.2,"mb":1015.47},{"series":"C7395","hour":68.4,"mb":1015.38},{"series":"C7395","hour":68.6,"mb":1015.29},{"series":"C7395","hour":68.8,"mb":1015.17},{"series":"C7395","hour":69.0,"mb":1015.06},{"series":"C7395","hour":69.2,"mb":1014.97},{"series":"C7395","hour":69.4,"mb":1014.88},{"series":"C7395","hour":69.65,"mb":1014.8},{"series":"C7395","hour":69.9,"mb":1014.71},{"series":"C7395","hour":70.1,"mb":1014.65},{"series":"C7395","hour":70.3,"mb":1014.59},{"series":"C7395","hour":70.5,"mb":1014.57},{"series":"C7395","hour":70.7,"mb":1014.56},{"series":"C7395","hour":70.85,"mb":1014.72},{"series":"C7395","hour":71.0,"mb":1014.88},{"series":"C7395","hour":71.2,"mb":1014.9},{"series":"C7395","hour":71.35,"mb":1014.94},{"series":"C7395","hour":71.6,"mb":1014.97},{"series":"C7395","hour":71.8,"mb":1015.0},{"series":"C7395","hour":72.0,"mb":1015.0}
  ]},
  "layer": [
    {
      "transform": [{"filter": "datum.series === 'C7395 Analysis'"}],
      "mark": {"type": "line", "interpolate": "step-after", "strokeWidth": 1},
      "encoding": {
        "x": {"field": "hour", "type": "quantitative", "scale": {"domain": [0, 72], "nice": false, "zero": false},
          "axis": {"orient": "bottom", "values": [0,6,12,18,24,30,36,42,48,54,60,66,72], "tickSize": -5, "labelPadding": 13, "labelLineHeight": 13, "labelBaseline": "top", "title": null,
            "labelExpr": "[timeFormat(datetime(2024,10,21,datum.value),'%m/%d'), timeFormat(datetime(2024,10,21,datum.value),'%H:%M')]"}},
        "y": {"field": "mb", "type": "quantitative", "scale": {"domain": [1008, 1022], "nice": false, "zero": false},
          "axis": {"orient": "left", "values": [1008,1010,1012,1014,1016,1018,1020,1022], "format": "d", "tickSize": -5, "labelPadding": 11, "title": "milliBars", "titleX": -48, "titleY": 200, "titleAngle": 270, "titleAlign": "center", "titleBaseline": "middle"}},
        "color": {"field": "series", "type": "nominal",
          "scale": {"domain": ["C7395 Analysis"], "range": ["#ff0000"]},
          "legend": {"legendX": 532, "legendY": 4.5, "symbolStrokeColor": "#ff0000"}}
      }
    },
    {
      "transform": [{"filter": "datum.series === 'C7395'"}],
      "mark": {"type": "line", "interpolate": "step-after", "strokeWidth": 1},
      "encoding": {
        "x": {"field": "hour", "type": "quantitative", "scale": {"domain": [0, 72], "nice": false, "zero": false},
          "axis": {"orient": "top", "values": [0,6,12,18,24,30,36,42,48,54,60,66,72], "tickSize": -5, "labels": false, "title": null}},
        "y": {"field": "mb", "type": "quantitative", "scale": {"domain": [1008, 1022], "nice": false, "zero": false},
          "axis": {"orient": "right", "values": [1008,1010,1012,1014,1016,1018,1020,1022], "tickSize": -5, "labels": false, "title": null}},
        "color": {"field": "series", "type": "nominal",
          "scale": {"domain": ["C7395"], "range": ["#0080ff"]},
          "legend": {"legendX": 532, "legendY": 17, "symbolStrokeColor": "#0080ff"}}
      }
    },
    {
      "transform": [{"filter": "datum.hour === 0"}],
      "mark": {"type": "point", "opacity": 0},
      "encoding": {
        "x": {"field": "hour", "type": "quantitative", "scale": {"domain": [0, 72], "nice": false, "zero": false},
          "axis": {"orient": "bottom", "values": [2,4,8,10,14,16,20,22,26,28,32,34,38,40,44,46,50,52,56,58,62,64,68,70], "tickSize": -3, "labels": false, "title": null}},
        "y": {"field": "mb", "type": "quantitative", "scale": {"domain": [1008, 1022], "nice": false, "zero": false}, "axis": null}
      }
    },
    {
      "transform": [{"filter": "datum.hour === 0"}],
      "mark": {"type": "point", "opacity": 0},
      "encoding": {
        "x": {"field": "hour", "type": "quantitative", "scale": {"domain": [0, 72], "nice": false, "zero": false},
          "axis": {"orient": "top", "values": [2,4,8,10,14,16,20,22,26,28,32,34,38,40,44,46,50,52,56,58,62,64,68,70], "tickSize": -3, "labels": false, "title": null}},
        "y": {"field": "mb", "type": "quantitative", "scale": {"domain": [1008, 1022], "nice": false, "zero": false}, "axis": null}
      }
    }
  ],
  "resolve": {"axis": {"x": "independent", "y": "independent"}, "scale": {"color": "independent"}, "legend": {"color": "independent"}}
}
